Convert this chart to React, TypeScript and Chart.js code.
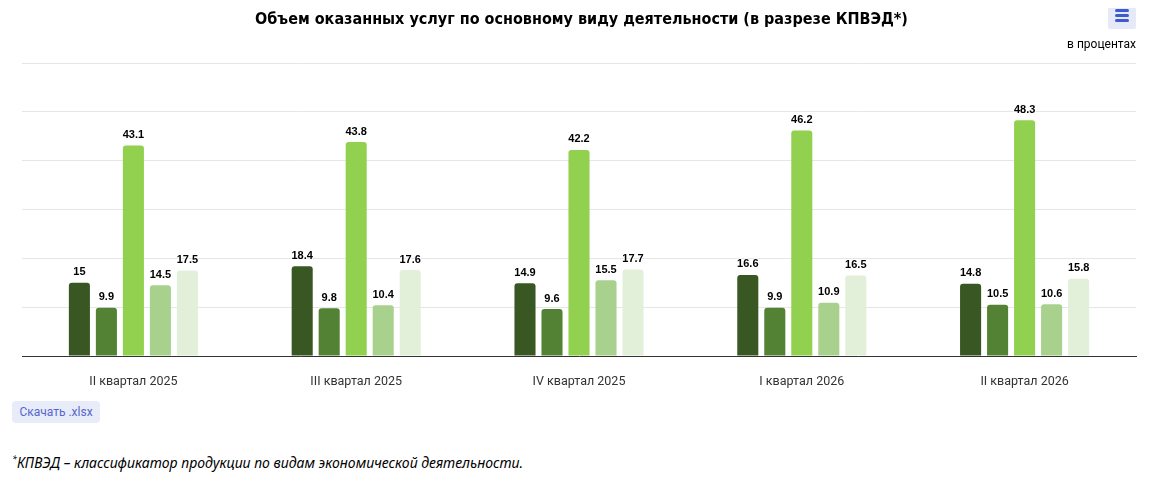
import React, { useEffect, useRef } from "react";
import { Chart, registerables } from "chart.js";

Chart.register(...registerables);

const categories = ["II квартал 2025", "III квартал 2025", "IV квартал 2025", "I квартал 2026", "II квартал 2026"];
const series1 = [15, 18.4, 14.9, 16.6, 14.8];
const series2 = [9.9, 9.8, 9.6, 9.9, 10.5];
const series3 = [43.1, 43.8, 42.2, 46.2, 48.3];
const series4 = [14.5, 10.4, 15.5, 10.9, 10.6];
const series5 = [17.5, 17.6, 17.7, 16.5, 15.8];
const seriesNames = ["Серия 1", "Серия 2", "Серия 3", "Серия 4", "Серия 5"];
const colors = ["#385723", "#548235", "#92d050", "#a9d18e", "#e2f0d9"];

const TITLE = "Объем оказанных услуг по основному виду деятельности (в разрезе КПВЭД*)";

const labelPlugin = {
  id: "valueLabels",
  afterDatasetsDraw(chart: any) {
    const ctx = chart.ctx;
    ctx.save();
    ctx.font = "bold 11px 'Liberation Sans', Arial, sans-serif";
    ctx.textAlign = "center";
    ctx.textBaseline = "bottom";
    chart.data.datasets.forEach((ds: any, i: number) => {
      const meta = chart.getDatasetMeta(i);
      meta.data.forEach((el: any, j: number) => {
        const v = ds.data[j];
        const txt = String(v);
        ctx.lineWidth = 2;
        ctx.strokeStyle = "rgba(255,255,255,0.8)";
        ctx.lineJoin = "round";
        ctx.strokeText(txt, el.x, el.y - 5);
        ctx.fillStyle = "#000";
        ctx.fillText(txt, el.x, el.y - 5);
      });
    });
    ctx.restore();
  },
};

function App() {
  const ref = useRef<HTMLCanvasElement>(null);
  useEffect(() => {
    if (!ref.current) return;
    const all = [series1, series2, series3, series4, series5];
    const chart = new Chart(ref.current, {
      type: "bar",
      data: {
        labels: categories,
        datasets: all.map((d, i) => ({
          label: seriesNames[i],
          data: d,
          backgroundColor: colors[i],
          borderRadius: { topLeft: 3, topRight: 3, bottomLeft: 0, bottomRight: 0 },
          borderSkipped: "bottom",
          categoryPercentage: 0.606,
          barPercentage: 0.78,
        })),
      },
      options: {
        responsive: false,
        animation: false,
        maintainAspectRatio: false,
        layout: { padding: { left: 14, right: 19, top: 55, bottom: 0 } },
        plugins: { legend: { display: false }, tooltip: { enabled: false }, title: { display: false } },
        scales: {
          x: {
            grid: { display: false, drawTicks: false },
            border: { display: true, color: "#333333", width: 1 },
            ticks: {
              padding: 18,
              color: "#333333",
              font: { family: "Roboto, 'Noto Sans', sans-serif", size: 12.5 },
            },
          },
          y: {
            min: 0,
            max: 60,
            ticks: { display: false, stepSize: 10 },
            grid: { color: "#e6e6e6", drawTicks: false },
            border: { display: false },
          },
        },
      },
      plugins: [labelPlugin],
    });
    return () => chart.destroy();
  }, []);

  return (
    <div style={{ position: "relative", width: 1147, height: 468, fontFamily: "Roboto, sans-serif" }}>
      <canvas ref={ref} width={1147} height={399} style={{ position: "absolute", left: 0, top: 0, width: 1147, height: 399 }} />
      <div
        style={{
          position: "absolute",
          left: 0,
          width: 1147,
          top: 1,
          textAlign: "center",
          fontFamily: "'DejaVu Sans Condensed', 'DejaVu Sans', sans-serif",
          fontWeight: "bold",
          fontSize: 16,
          lineHeight: "20px",
          color: "#000",
        }}
      >
        {TITLE}
      </div>
      <div
        style={{
          position: "absolute",
          right: 19,
          top: 28,
          fontSize: 12,
          lineHeight: "16px",
          color: "#000",
          fontFamily: "Roboto, sans-serif",
        }}
      >
        в процентах
      </div>
      <div
        style={{
          position: "absolute",
          left: 1100,
          top: -7,
          width: 28,
          height: 28,
          background: "#e6e9f7",
          borderRadius: 2,
        }}
      >
        {[9, 14, 19].map((y) => (
          <div key={y} style={{ position: "absolute", left: 7, top: y - 1, width: 14, height: 3, borderRadius: 1.5, background: "#3d5bcc" }} />
        ))}
      </div>
      <div
        style={{
          position: "absolute",
          left: 4,
          top: 393,
          width: 88,
          height: 22,
          background: "#e8ebf8",
          borderRadius: 4,
          color: "#5567cf",
          fontSize: 12,
          lineHeight: "22px",
          textAlign: "center",
          fontFamily: "Roboto, sans-serif",
        }}
      >
        Скачать .xlsx
      </div>
      <div
        style={{
          position: "absolute",
          left: 4,
          top: 442,
          fontSize: 14,
          lineHeight: "18px",
          fontStyle: "italic",
          color: "#000",
          fontFamily: "'Noto Sans', sans-serif",
        }}
      >
        <sup style={{ fontSize: 9 }}>*</sup>КПВЭД – классификатор продукции по видам экономической деятельности.
      </div>
    </div>
  );
}

export default App;
